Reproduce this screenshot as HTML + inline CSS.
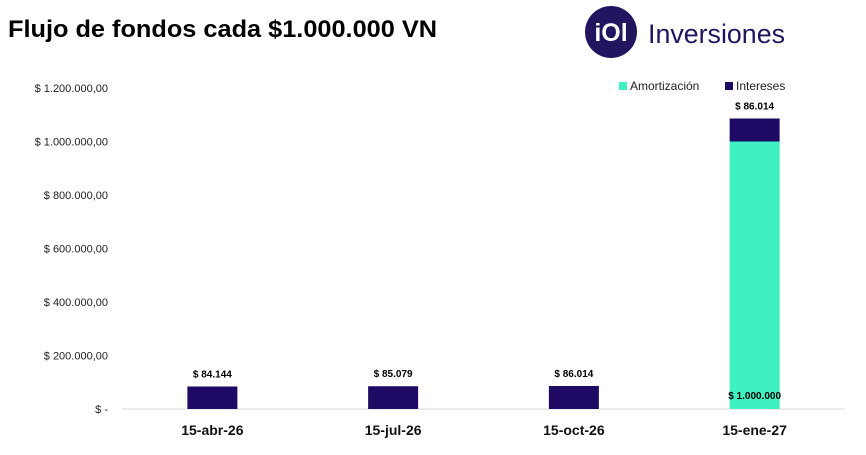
<!DOCTYPE html>
<html><head><meta charset="utf-8"><style>
body{margin:0;background:#fff;width:866px;height:450px;overflow:hidden;font-family:"Liberation Sans",sans-serif}
</style></head><body>
<svg width="866" height="450" id="chart" xmlns="http://www.w3.org/2000/svg">
<text x="8" y="37" font-size="24" font-weight="bold" fill="#000" textLength="429" lengthAdjust="spacingAndGlyphs">Flujo de fondos cada $1.000.000 VN</text>
<g>
<circle cx="611" cy="32" r="26" fill="#23145f"/>
<text x="611" y="41" font-size="25" font-weight="bold" fill="#fff" text-anchor="middle">iOl</text>
<text x="648" y="43" font-size="27" fill="#23145f" textLength="137" lengthAdjust="spacingAndGlyphs">Inversiones</text>
</g>
<g>
<rect x="619" y="82" width="8" height="8" fill="#3ff0c0"/>
<text x="630" y="90" font-size="12" fill="#222">Amortización</text>
<rect x="725" y="82" width="8" height="8" fill="#1e0a64"/>
<text x="736" y="90" font-size="12" fill="#222">Intereses</text>
</g>
<line x1="122" y1="409" x2="845" y2="409" stroke="#d9d9d9"/>
<g id="yaxis"></g><g id="bars"></g>
</svg>
<script>
const categories=["15-abr-26","15-jul-26","15-oct-26","15-ene-27"];
const amortizacion=[0,0,0,1000000];
const intereses=[84144,85079,86014,86014];
const yTicks=[0,200000,400000,600000,800000,1000000,1200000];
const yTickLabels=["$ -","$ 200.000,00","$ 400.000,00","$ 600.000,00","$ 800.000,00","$ 1.000.000,00","$ 1.200.000,00"];
const interesLabels=["$ 84.144","$ 85.079","$ 86.014","$ 86.014"];
const amortLabels=["","","","$ 1.000.000"];
const NS="http://www.w3.org/2000/svg";
const x0=122,x1=845,y0=409,y1=88,yMax=1200000;
function yS(v){return y0-(v/yMax)*(y0-y1);}
function xS(i){return x0+(i+0.5)*(x1-x0)/categories.length;}
function mk(t,a,p){const e=document.createElementNS(NS,t);for(const k in a)e.setAttribute(k,a[k]);p.appendChild(e);return e;}
const ya=document.getElementById('yaxis'),bg=document.getElementById('bars');
yTicks.forEach((v,i)=>{
const t=mk('text',{x:108,y:yS(v)+4,'font-size':11,'text-anchor':'end',fill:'#222'},ya);
t.textContent=yTickLabels[i];


});
const bw=50;
categories.forEach((c,i)=>{
const cx=xS(i);
if(amortizacion[i]>0){
const r=mk('rect',{x:cx-bw/2,y:yS(amortizacion[i]),width:bw,height:y0-yS(amortizacion[i]),fill:'#3ff0c0'},bg);


const al=mk('text',{x:cx,y:y0-10,'font-size':10,'font-weight':'bold','text-anchor':'middle',fill:'#000'},bg);
al.textContent=amortLabels[i];


}
const top=yS(amortizacion[i]+intereses[i]);
const r2=mk('rect',{x:cx-bw/2,y:top,width:bw,height:yS(amortizacion[i])-top,fill:'#1e0a64'},bg);


const l=mk('text',{x:cx,y:top-9,'font-size':10,'font-weight':'bold','text-anchor':'middle',fill:'#000'},bg);
l.textContent=interesLabels[i];


const xl=mk('text',{x:cx,y:435,'font-size':14,'font-weight':'bold','text-anchor':'middle',fill:'#111'},bg);
xl.textContent=c;


});
</script>
</body></html>
